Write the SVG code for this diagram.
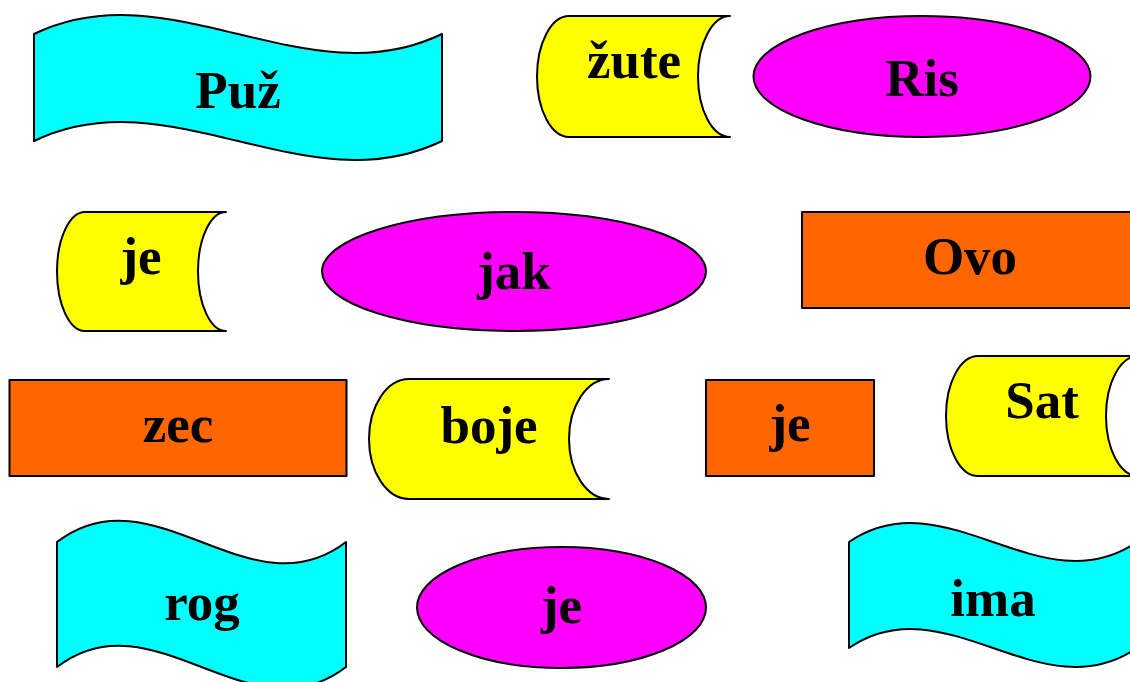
<svg xmlns="http://www.w3.org/2000/svg" width="1130" height="682" viewBox="0 0 1130 682">
<style>
.s{stroke:#000;stroke-width:2;stroke-linejoin:round}
.cy{fill:#00FFFF}
.ye{fill:#FFFF00}
.ma{fill:#FF00FF}
.or{fill:#FF6600}
.t{font-family:"Liberation Serif","Times New Roman",serif;font-weight:bold;font-size:53px;fill:#000;text-anchor:middle}
</style>
<rect width="1130" height="682" fill="#fff"/>
<g id="connectors"/>
<g id="n-puz"><path class="s cy" d="M34,34 C170,-32 306,100 442,34 L442,141 C306,207 170,75 34,141 Z"/><text class="t" x="238" y="108">Puž</text></g>
<g id="n-zute"><path class="s ye" d="M569,16 H730 A32,60.5 0 0 0 730,137 H569 A32,60.5 0 0 1 569,16 Z"/><text class="t" x="634" y="78">žute</text></g>
<g id="n-ris"><ellipse class="s ma" cx="922" cy="76.5" rx="168.5" ry="60.5"/><text class="t" x="922" y="96">Ris</text></g>
<g id="n-je1"><path class="s ye" d="M85,212 H226 A28,59.5 0 0 0 226,331 H85 A28,59.5 0 0 1 85,212 Z"/><text class="t" x="141" y="274">je</text></g>
<g id="n-jak"><ellipse class="s ma" cx="514" cy="271.5" rx="192" ry="59.5"/><text class="t" x="514" y="289">jak</text></g>
<g id="n-ovo"><rect class="s or" x="802" y="212" width="336" height="96"/><text class="t" x="970" y="274">Ovo</text></g>
<g id="n-zec"><rect class="s or" x="9.5" y="380" width="337" height="96"/><text class="t" x="178" y="442">zec</text></g>
<g id="n-boje"><path class="s ye" d="M409,379 H609 A40,60 0 0 0 609,499 H409 A40,60 0 0 1 409,379 Z"/><text class="t" x="489" y="443">boje</text></g>
<g id="n-je2"><rect class="s or" x="706" y="380" width="168" height="96"/><text class="t" x="790" y="441">je</text></g>
<g id="n-sat"><path class="s ye" d="M978,356 H1138 A32,60 0 0 0 1138,476 H978 A32,60 0 0 1 978,356 Z"/><text class="t" x="1042" y="418">Sat</text></g>
<g id="n-rog"><path class="s cy" d="M57,542 C153.3,468 249.7,616 346,542 L346,667 C249.7,741 153.3,593 57,667 Z"/><text class="t" x="202" y="620">rog</text></g>
<g id="n-je3"><ellipse class="s ma" cx="561.5" cy="607.5" rx="144.5" ry="60.5"/><text class="t" x="561.5" y="623">je</text></g>
<g id="n-ima"><path class="s cy" d="M849,542 C945,476 1041,608 1137,542 L1137,648 C1041,714 945,582 849,648 Z"/><text class="t" x="993" y="616">ima</text></g>
</svg>
